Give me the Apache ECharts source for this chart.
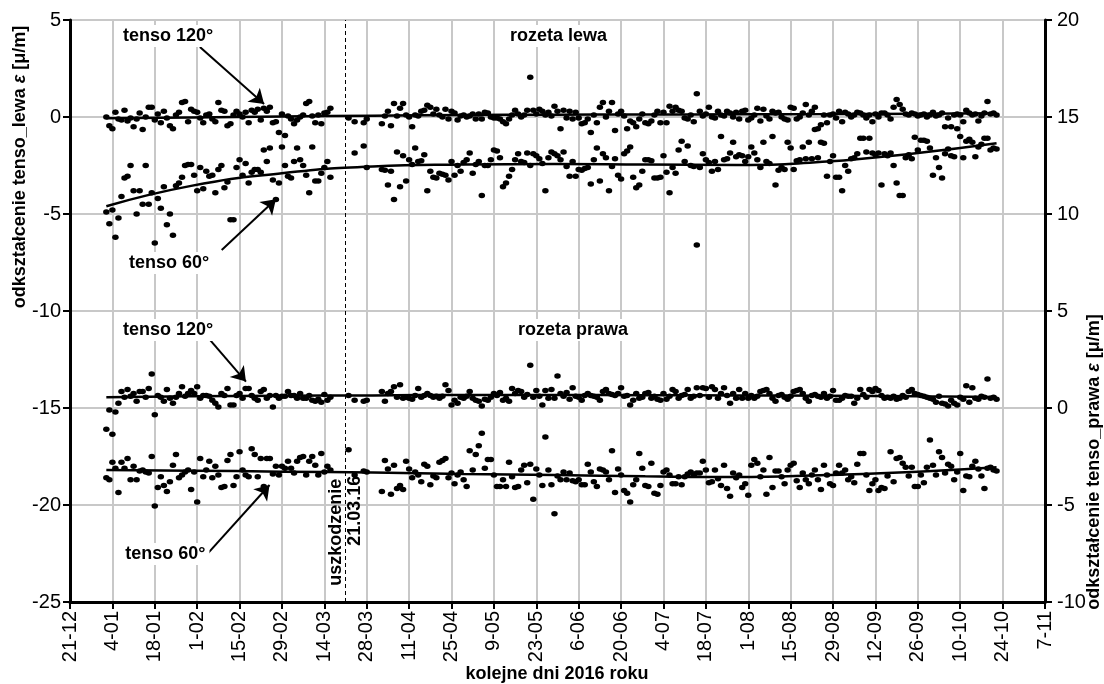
<!DOCTYPE html>
<html>
<head>
<meta charset="utf-8">
<script src="https://cdn.jsdelivr.net/npm/echarts@6/dist/echarts.min.js"></script>
<style>html,body{margin:0;padding:0;background:#fff}#c{width:1104px;height:684px}</style>
</head>
<body>
<div id="c"></div>
<script>
// x axis: day index counted from 21-12-2015 (day 0); ticks every 14 days
const tickLabels = ['21-12','4-01','18-01','1-02','15-02','29-02','14-03','28-03','11-04','25-04','9-05','23-05','6-06','20-06','4-07','18-07','1-08','15-08','29-08','12-09','26-09','10-10','24-10','7-11'];
const startDay = 12;      // first measurement day (2-01-2016)
const damageDay = 91;     // 21.03.16

// rozeta lewa, tenso 120° (left axis)
const lewa120 = [
 0.0,-0.45,-0.6,0.25,-0.1,-0.15,0.35,-0.2,-0.05,-0.5,-0.1,0.2,-0.65,0.0,
 0.5,0.5,-0.15,0.15,-0.3,0.3,-0.05,-0.45,-0.6,0.1,0.25,0.75,0.8,-0.25,
 0.4,0.3,0.25,-0.05,-0.3,0.1,0.15,-0.1,-0.25,0.75,0.35,0.3,-0.45,-0.35,
 0.1,0.3,0.15,0.0,0.25,-0.3,0.35,0.25,0.4,-0.15,0.45,0.3,0.5,-0.3,
 -0.25,-0.8,0.15,-0.95,0.05,-0.1,-0.35,-0.15,0.0,0.1,0.7,0.8,0.05,-0.3,
 0.1,-0.35,0.2,0.25,0.45,null,null,null,null,null,-0.05,null,-0.25,null,
 null,-0.3,-0.1,null,null,null,null,-0.35,0.05,0.3,-0.45,0.7,0.05,0.45,
 0.7,0.1,0.0,-0.5,0.1,0.05,0.3,0.35,0.6,0.5,0.15,0.4,0.1,0.0,
 0.4,-0.1,0.3,0.2,-0.15,0.05,0.1,0.0,0.05,0.15,-0.1,0.15,-0.1,0.25,
 0.2,0.0,-0.05,-0.05,-0.1,-0.25,-0.35,-0.1,0.1,0.35,0.15,0.0,0.1,0.35,
 2.05,0.35,0.15,0.4,0.3,0.1,0.25,0.05,0.55,0.3,-0.6,0.35,-0.05,0.3,
 -0.1,0.25,-0.05,-0.35,-0.3,-0.1,-0.8,0.1,-0.3,0.5,0.75,0.0,0.3,0.75,
 -0.7,0.15,0.3,0.05,-0.6,-0.2,-0.3,-0.5,-0.1,0.15,-0.3,-0.35,-0.2,0.1,
 0.3,-0.3,0.25,-0.3,0.55,0.3,0.5,0.35,0.3,-0.05,-0.1,0.1,-0.25,1.2,
 0.3,0.05,0.15,0.5,0.0,-0.05,0.3,0.1,0.05,0.3,0.2,0.0,0.25,-0.1,
 0.3,0.35,-0.15,-0.05,0.1,0.45,-0.2,0.4,0.05,-0.1,0.3,0.2,0.25,0.0,
 -0.1,-0.15,0.5,0.45,-0.1,0.0,0.2,0.65,0.1,0.3,0.5,-0.6,-0.4,0.1,
 -0.3,0.1,0.15,-0.05,0.3,-0.25,0.25,0.15,0.0,0.1,0.25,0.2,0.1,-0.05,
 0.1,-0.25,0.15,0.0,0.2,0.2,0.1,-0.1,0.5,0.9,0.65,0.4,0.15,0.1,
 0.2,0.15,0.05,0.1,0.15,0.0,0.1,0.25,0.05,0.1,0.2,-0.5,-0.05,-0.5,
 0.1,0.15,0.1,-0.25,0.35,0.2,0.1,0.15,-0.2,0.05,0.2,0.8,0.15,0.2,
 0.1
];
// rozeta lewa, tenso 60° (left axis)
const lewa60 = [
 -4.9,-5.5,-4.8,-6.2,-5.2,-4.1,-3.15,-3.05,-2.5,-3.8,-5.0,-3.8,-4.5,-2.5,
 -4.5,-3.9,-6.5,-4.2,-4.7,-3.6,-5.55,-5.0,-6.1,-3.55,-3.4,-3.1,-2.5,-2.45,
 -2.45,-3.0,-3.8,-2.6,-3.7,-2.8,-3.05,-3.0,-3.9,-2.7,-2.5,-3.65,-3.35,-5.3,
 -5.3,-2.6,-2.2,-3.0,-2.4,-3.4,-2.85,-2.7,-2.7,-2.85,-1.7,-2.3,-1.6,-3.25,
 -4.25,-3.4,-1.55,-2.5,-3.05,-3.15,-2.3,-1.6,-2.2,-2.5,-3.0,-3.9,-1.55,-3.3,
 -3.3,-2.9,-2.6,-2.3,-3.1,null,null,null,null,null,null,null,-1.85,null,
 null,-1.5,-2.6,null,null,null,null,-2.7,-2.75,-3.5,-2.8,-4.25,-1.8,-3.6,
 -2.0,-3.3,-2.2,-2.45,-1.6,-2.3,-2.25,-1.95,-3.8,-2.8,-3.1,-3.15,-2.9,-2.95,
 -3.0,-3.25,-2.3,-3.0,-2.5,-2.8,-2.35,-2.2,-1.85,-2.9,-2.45,-2.3,-4.05,-2.5,
 -2.5,-2.2,-1.7,-1.75,-2.1,-3.6,-3.4,-3.05,-2.7,-2.2,-1.9,-2.3,-2.35,-1.85,
 -2.5,-1.9,-2.0,-2.15,-2.4,-3.8,-2.1,-1.8,-1.9,-2.0,-2.2,-1.8,-2.55,-3.05,
 -2.3,-3.05,-2.7,-2.75,-2.65,-2.6,-3.45,-2.2,-1.6,-3.3,-1.9,-2.1,-3.8,-2.55,
 -2.15,-3.0,-3.2,-1.9,-1.75,-1.55,-3.1,-3.65,-3.5,-2.8,-2.2,-2.2,-2.25,-3.15,
 -3.15,-3.1,-2.0,-2.85,-3.9,-2.6,-2.9,-1.7,-1.25,-2.3,-1.5,-2.5,-2.55,-6.6,
 -2.6,-1.9,-2.2,-2.35,-2.8,-2.3,-2.7,-1.0,-2.2,-2.15,-1.85,-1.3,-2.05,-1.95,
 -2.0,-2.3,-2.05,-1.55,-1.85,-2.2,-2.6,-1.3,-2.3,-2.4,-1.0,-3.5,-2.75,-2.6,
 -2.7,-1.3,-1.6,-2.7,-2.25,-2.2,-1.55,-2.15,-1.3,-2.15,-0.65,-2.1,-1.3,-1.35,
 -3.05,-2.3,-2.0,-3.1,-3.1,-3.8,-2.5,-2.8,-2.15,-2.1,-1.9,-1.1,-1.1,-1.8,
 -1.1,-1.85,-1.95,-1.85,-3.5,-1.9,-2.0,-1.85,-2.5,-3.4,-4.05,-4.05,-2.1,-1.95,
 -2.15,-1.05,-1.7,-1.2,-1.2,-1.25,-1.6,-3.0,-2.1,-2.6,-3.15,-1.9,-1.65,-2.0,
 -2.05,-0.6,-1.0,-2.1,-1.25,-1.15,-1.3,-2.05,-1.55,-1.4,-1.1,-1.1,-1.7,-1.6,
 -1.65
];
// rozeta prawa, tenso 120° (right axis)
const prawa120 = [
 -1.1,-0.1,-1.35,-0.2,0.25,0.85,0.55,0.95,0.6,0.75,0.35,0.85,0.85,0.55,
 1.0,1.75,-0.35,0.65,0.55,0.35,0.95,0.5,0.25,0.55,0.75,1.1,0.6,0.75,
 0.9,0.75,1.1,0.5,0.65,0.65,0.6,0.4,0.25,0.05,0.75,0.65,1.0,0.15,
 0.15,0.65,0.75,0.5,1.0,1.0,0.65,0.5,0.4,0.85,0.95,0.5,0.65,0.05,
 0.65,0.5,0.6,0.6,0.85,0.65,0.65,0.5,0.75,0.5,0.5,0.65,0.4,0.35,
 0.45,0.3,0.7,0.4,0.55,null,null,null,null,null,0.65,null,0.4,null,
 null,0.35,0.4,null,null,null,null,0.85,0.35,0.75,0.85,1.1,0.55,1.2,
 0.5,0.55,0.5,0.45,0.65,1.0,0.55,0.65,0.75,0.65,0.55,0.6,0.5,0.6,
 1.2,0.9,0.15,0.4,0.25,0.55,0.5,0.6,0.85,0.5,0.4,0.35,0.1,0.45,
 0.4,0.55,0.75,0.65,0.8,0.4,0.5,0.35,1.0,0.75,0.9,0.85,0.55,0.7,
 2.2,0.55,0.9,0.6,0.15,0.9,0.5,0.95,0.5,1.65,0.75,0.6,0.8,0.45,
 1.05,0.6,0.55,0.4,0.65,0.75,0.65,0.6,0.55,0.4,0.85,0.95,0.75,0.7,
 0.65,0.75,1.05,0.6,0.65,0.15,0.4,0.75,0.5,0.55,0.75,0.8,0.5,0.6,
 0.45,0.4,0.75,0.45,0.6,0.95,0.85,0.5,0.65,0.7,0.95,0.5,0.6,1.05,
 0.65,1.05,1.0,0.55,1.1,0.95,0.5,0.75,1.05,0.65,0.25,0.75,0.5,0.95,
 0.5,0.75,0.5,0.65,0.5,0.6,0.85,0.9,0.95,0.75,0.5,0.35,0.65,0.7,
 0.55,0.45,0.6,0.85,0.9,0.95,0.75,0.5,0.35,0.65,0.7,0.6,0.55,0.75,
 0.5,0.6,0.9,0.4,0.4,0.5,0.65,0.6,0.6,0.25,0.5,0.95,0.7,0.55,
 0.95,0.85,1.0,0.9,0.65,0.5,0.55,0.5,0.6,0.45,0.5,0.65,0.55,0.85,
 0.95,0.75,0.7,0.65,0.6,0.55,0.5,0.45,0.3,0.6,0.25,0.2,0.1,0.4,
 0.25,0.15,0.55,0.45,1.15,0.3,1.05,0.5,0.45,0.6,0.55,1.5,0.5,0.55,
 0.45
];
// rozeta prawa, tenso 60° (right axis)
const prawa60 = [
 -3.6,-3.7,-2.8,-3.1,-4.35,-2.8,-3.1,-2.6,-3.7,-3.0,-3.7,-3.25,-3.2,-3.3,
 -3.35,-2.5,-5.05,-4.1,-3.55,-4.0,-4.3,-3.8,-2.95,-2.4,-3.6,-3.45,-3.3,-3.2,
 -4.2,-3.3,-4.85,-2.6,-3.55,-3.2,-2.75,-3.6,-3.0,-3.45,-4.1,-4.05,-2.7,-2.4,
 -4.0,-3.55,-2.25,-3.2,-3.45,-3.55,-2.1,-2.4,-3.55,-2.6,-4.05,-2.6,-2.6,-3.4,
 -3.0,-3.45,-3.0,-3.1,-2.75,-3.1,-3.35,-2.75,-2.55,-2.5,-3.45,-2.75,-2.5,-2.95,
 -3.45,-2.35,-3.3,-3.0,-3.2,null,null,null,null,null,-2.15,null,-3.45,null,
 null,-3.25,-3.3,null,null,null,null,-4.3,-2.7,-3.15,-4.45,-2.95,-4.15,-4.0,
 -4.2,-2.75,-3.15,-3.6,-3.3,-3.45,-3.8,-2.9,-3.0,-3.95,-3.5,-3.6,-2.8,-2.7,
 -2.6,-3.6,-3.35,-3.9,-3.45,-3.3,-3.7,-4.05,-2.2,-3.2,-2.4,-1.95,-1.3,-3.1,
 -2.65,-2.65,-3.45,-4.05,-4.05,-3.7,-4.05,-2.8,-3.55,-4.1,-4.05,-3.2,-2.95,-3.85,
 -2.9,-4.7,-3.15,-3.45,-4.0,-1.5,-3.2,-3.95,-5.45,-3.5,-3.7,-3.3,-3.7,-3.35,
 -3.75,-3.8,-3.7,-3.95,-3.95,-2.9,-3.3,-3.8,-4.05,-3.15,-3.2,-3.3,-3.7,-2.2,
 -4.35,-3.15,-3.45,-4.25,-4.4,-4.85,-3.95,-3.7,-2.35,-3.1,-4.0,-4.05,-2.85,-4.4,
 -4.45,-4.0,-3.3,-3.2,-3.45,-3.9,-3.9,-3.55,-3.95,-3.55,-3.4,-3.3,-3.45,-3.35,
 -3.35,-2.75,-3.2,-3.85,-3.8,-3.2,-3.65,-4.0,-2.95,-4.15,-4.55,-3.35,-3.6,-3.45,
 -4.1,-3.9,-4.5,-2.95,-2.65,-2.85,-3.55,-3.2,-4.45,-2.55,-4.1,-3.25,-3.25,-3.55,
 -3.9,-3.2,-2.95,-2.85,-3.75,-4.1,-3.35,-3.7,-3.9,-3.45,-3.2,-3.7,-4.2,-2.95,
 -3.45,-3.9,-4.0,-3.35,-2.95,-3.35,-3.2,-3.7,-3.55,-3.85,-2.9,-2.35,-2.35,-3.45,
 -4.25,-3.9,-3.7,-4.25,-4.1,-4.15,-3.5,-2.25,-3.8,-2.6,-2.55,-2.85,-3.05,-3.5,
 -3.05,-4.05,-4.05,-3.45,-3.85,-3.05,-1.65,-2.95,-3.45,-2.25,-2.55,-3.35,-2.9,-3.0,
 -3.7,-3.3,-2.35,-4.25,-3.5,-3.55,-3.0,-2.75,-3.15,-3.5,-4.15,-3.1,-3.05,-3.2,
 -3.25
];

// trend lines
const trendDays     = [12, 40, 70, 100, 130, 160, 190, 220, 250, 280, 306];
const trendLewa120  = [-0.07, -0.02, 0.03, 0.07, 0.1, 0.12, 0.13, 0.14, 0.15, 0.17, 0.19];
const trendLewa60   = [-4.6, -3.55, -2.9, -2.55, -2.45, -2.42, -2.45, -2.47, -2.3, -1.85, -1.35];
const trendPrawa120 = [0.55, 0.6, 0.63, 0.65, 0.67, 0.67, 0.66, 0.65, 0.63, 0.6, 0.57];
const trendPrawa60  = [-3.2, -3.23, -3.28, -3.33, -3.4, -3.45, -3.52, -3.56, -3.45, -3.28, -3.05];

// annotations (in left-axis data units)
const labels = [
  {text:'tenso 120°',   day:32.4,  val:4.18},
  {text:'tenso 60°',    day:32.7,  val:-7.53},
  {text:'rozeta lewa',  day:161.3, val:4.18},
  {text:'tenso 120°',   day:32.4,  val:-10.98},
  {text:'rozeta prawa', day:166.1, val:-10.98},
  {text:'tenso 60°',    day:31.5,  val:-22.53}
];
const vLabels = [
  {text:'uszkodzenie', day:87.7, val:-21.4},
  {text:'21.03.16',    day:94.1, val:-20.3}
];
const arrows = [
  [[42.9, 3.61],  [64.1, 0.67]],
  [[50.1, -6.86], [68.0, -4.24]],
  [[45.3, -11.32],[58.1, -13.64]],
  [[45.3, -22.53],[65.9, -18.97]]
];

const FONT = '"Liberation Sans", Arial, sans-serif';
function pairs(arr){ return arr.map((v,i)=> v==null ? null : [startDay+i, v]).filter(Boolean); }
function tpairs(arr){ return arr.map((v,i)=> [trendDays[i], v]); }

const chart = echarts.init(document.getElementById('c'));
const dot = {type:'scatter', symbol:'circle', symbolSize:[6.5,5.5], itemStyle:{color:'#000', opacity:1}, silent:true, z:3};
const trend = {type:'line', smooth:true, showSymbol:false, symbol:'none', lineStyle:{color:'#000', width:2.5}, silent:true, z:4};

const labelPts = labels.map(l=>({coord:[l.day,l.val], value:l.text,
  label:{show:true, position:'inside', formatter:l.text, color:'#000', fontFamily:FONT, fontWeight:'bold', fontSize:18, backgroundColor:'#fff', padding:[3,4,1,4]}}));
const vLabelPts = vLabels.map(l=>({coord:[l.day,l.val], value:l.text,
  label:{show:true, position:'inside', rotate:90, formatter:l.text, color:'#000', fontFamily:FONT, fontWeight:'bold', fontSize:18}}));

chart.setOption({
  animation:false,
  backgroundColor:'#fff',
  textStyle:{fontFamily:FONT},
  grid:{left:70, right:59, top:20, bottom:82, containLabel:false},
  xAxis:{type:'value', min:0, max:322, interval:14,
    axisLine:{show:true, onZero:false, lineStyle:{color:'#000', width:3}},
    axisTick:{show:true, length:7, lineStyle:{color:'#000', width:2}},
    axisLabel:{rotate:90, margin:9, color:'#000', fontSize:20, fontFamily:FONT,
      formatter:(v)=> tickLabels[Math.round(v/14)] || ''},
    splitLine:{show:true, lineStyle:{color:'#c8c8c8', width:2}}
  },
  yAxis:[
    {type:'value', min:-25, max:5, interval:5, position:'left',
      axisLine:{show:true, lineStyle:{color:'#000', width:3}},
      axisTick:{show:true, length:7, lineStyle:{color:'#000', width:2}},
      axisLabel:{margin:9, color:'#000', fontSize:20, fontFamily:FONT},
      splitLine:{show:true, lineStyle:{color:'#c8c8c8', width:2}}},
    {type:'value', min:-10, max:20, interval:5, position:'right',
      axisLine:{show:true, lineStyle:{color:'#000', width:3}},
      axisTick:{show:true, length:7, lineStyle:{color:'#000', width:2}},
      axisLabel:{margin:12, color:'#000', fontSize:20, fontFamily:FONT},
      splitLine:{show:false}}
  ],
  series:[
    Object.assign({}, dot, {name:'lewa 120', yAxisIndex:0, data:pairs(lewa120)}),
    Object.assign({}, dot, {name:'lewa 60',  yAxisIndex:0, data:pairs(lewa60)}),
    Object.assign({}, dot, {name:'prawa 120',yAxisIndex:1, data:pairs(prawa120)}),
    Object.assign({}, dot, {name:'prawa 60', yAxisIndex:1, data:pairs(prawa60)}),
    Object.assign({}, trend, {name:'trend lewa 120', yAxisIndex:0, data:tpairs(trendLewa120),
      markLine:{silent:true, symbol:['none','none'], label:{show:false}, animation:false,
        lineStyle:{color:'#000', width:1, type:[4,3]}, data:[{xAxis:damageDay}]}}),
    Object.assign({}, trend, {name:'trend lewa 60', yAxisIndex:0, data:tpairs(trendLewa60),
      markLine:{silent:true, symbol:['none','arrow'], symbolSize:14, label:{show:false}, animation:false,
        lineStyle:{color:'#000', width:2, type:'solid'},
        data:arrows.map(a=>[{coord:a[0]},{coord:a[1]}])}}),
    Object.assign({}, trend, {name:'trend prawa 120', yAxisIndex:1, data:tpairs(trendPrawa120)}),
    Object.assign({}, trend, {name:'trend prawa 60', yAxisIndex:1, data:tpairs(trendPrawa60)}),
    {type:'scatter', name:'annotations', yAxisIndex:0, data:[[0,-100]], symbolSize:0, silent:true, z:10,
      markPoint:{symbol:'circle', symbolSize:1, itemStyle:{color:'rgba(0,0,0,0)'}, silent:true, animation:false,
        data:labelPts.concat(vLabelPts)}}
  ],
  graphic:[
    {type:'text', x:20, y:167, rotation:Math.PI/2, silent:true,
      style:{text:'{b|odkształcenie tenso_lewa }{i|ε}{b| [μ/m]}', align:'center', verticalAlign:'middle',
        rich:{b:{fontFamily:FONT, fontWeight:'bold', fontSize:18, fill:'#000'}, i:{fontFamily:FONT, fontWeight:'bold', fontStyle:'italic', fontSize:18, fill:'#000'}}}},
    {type:'text', x:1094, y:462, rotation:Math.PI/2, silent:true,
      style:{text:'{b|odkształcenie tenso_prawa }{i|ε}{b| [μ/m]}', align:'center', verticalAlign:'middle',
        rich:{b:{fontFamily:FONT, fontWeight:'bold', fontSize:18, fill:'#000'}, i:{fontFamily:FONT, fontWeight:'bold', fontStyle:'italic', fontSize:18, fill:'#000'}}}},
    {type:'text', x:557, y:674, silent:true,
      style:{text:'kolejne dni 2016 roku', align:'center', verticalAlign:'middle', fontFamily:FONT, fontWeight:'bold', fontSize:18, fill:'#000'}}
  ]
});
</script>
</body>
</html>
